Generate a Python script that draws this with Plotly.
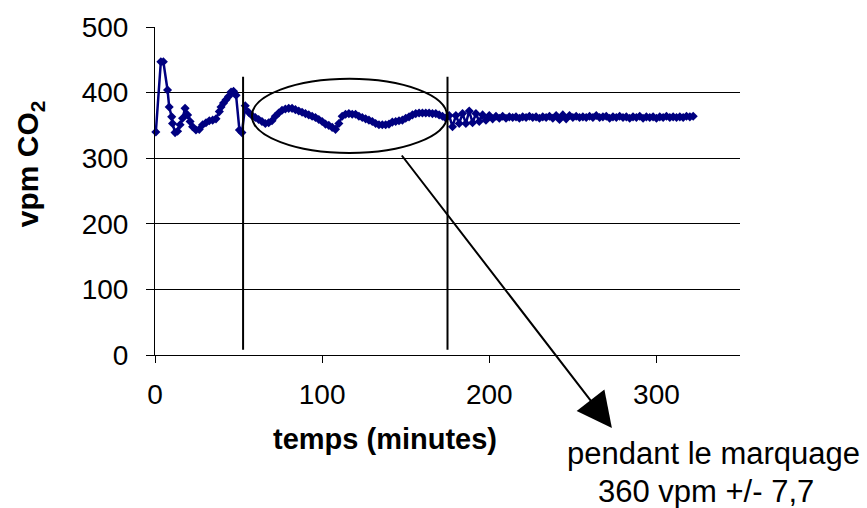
import plotly.graph_objects as go

# CO2 concentration (vpm) against time (minutes)
temps_debut = [0.5, 3.5, 5, 7.5, 8.5, 10, 10.5, 12, 13.5, 15, 16.5, 18, 19.5, 21, 22.5,
               24.5, 26.5, 28.5, 30.5, 32.5, 34.5, 36.5, 38.5, 39.5, 41, 42.5, 44, 45.5,
               47, 48.5, 50.5, 52]
co2_debut = [340, 447, 447, 404, 378, 363, 353, 339, 341, 351, 361, 376, 366, 356, 348,
             343, 344, 351, 354, 357, 358, 360, 371, 378, 384, 389, 394, 401,
             402, 396, 343, 339]

temps_marquage = [54, 56, 58, 60, 62, 64, 66, 68, 70, 72, 74, 76, 78, 80, 82, 84, 86, 88,
                  90, 92, 94, 96, 98, 100, 102, 104, 106, 108, 110, 112, 114, 116, 118,
                  120, 122, 124, 126, 128, 130, 132, 134, 136, 138, 140, 142, 144, 146,
                  148, 150, 152, 154, 156, 158, 160, 162, 164, 166, 168, 170, 172, 174]
co2_marquage = [380, 370, 365, 362, 359, 356, 353, 354, 357, 364, 369, 373, 375, 376, 376,
                374, 372, 370, 368, 366, 364, 362, 359, 356, 352, 350, 347, 344, 353, 364,
                367, 368, 367, 367, 364, 362, 360, 358, 356, 353, 351, 351, 351, 352, 355,
                356, 357, 358, 361, 363, 366, 368, 369, 369, 369, 369, 368, 368, 366, 364,
                361]

temps_fin = [176, 178, 180, 182, 184, 186, 188, 190, 192, 194, 196, 198, 200, 202, 204,
             206, 208, 210, 212, 214, 216, 218, 220, 222, 224, 226, 228, 230, 232, 234,
             236, 238, 240, 242, 244, 246, 248, 250, 252, 254, 256, 258, 260, 262, 264,
             266, 268, 270, 272, 274, 276, 278, 280, 282, 284, 286, 288, 290, 292, 294,
             296, 298, 300, 302, 304, 306, 308, 310, 312, 314, 316, 318, 320, 322]
co2_fin = [365, 348, 365, 353, 368, 353, 372, 354, 368, 356, 366, 358, 365, 360, 364,
           361, 364, 361, 363, 362, 363, 361, 363, 362, 364, 362, 363, 361, 363, 362,
           364, 361, 365, 359, 366, 360, 365, 362, 364, 362, 363, 362, 364, 362, 365,
           362, 363, 364, 361, 363, 362, 364, 362, 363, 361, 363, 362, 364, 361, 363,
           362, 363, 361, 363, 362, 364, 362, 363, 362, 363, 362, 364, 363, 364]

temps = temps_debut + temps_marquage + temps_fin
co2 = co2_debut + co2_marquage + co2_fin

x_ticks = [0, 100, 200, 300]
y_ticks = [0, 100, 200, 300, 400, 500]

# labelling period: bounds (minutes) and the ellipse around it
debut_marquage = 52.7
fin_marquage = 175
bas_trait, haut_trait = 8, 424
ellipse_t = (58, 174.7)
ellipse_v = (308, 421)

FONT = "Liberation Sans, Arial, sans-serif"
NAVY = "#000080"

fig = go.Figure()
fig.add_trace(go.Scatter(
    x=temps, y=co2, mode="lines+markers",
    line=dict(color=NAVY, width=2.5),
    marker=dict(symbol="diamond", size=7, color=NAVY),
    showlegend=False, cliponaxis=False,
))

shapes = []
for t in (debut_marquage, fin_marquage):
    shapes.append(dict(type="line", xref="x", yref="y", x0=t, x1=t,
                       y0=bas_trait, y1=haut_trait,
                       line=dict(color="black", width=2)))
shapes.append(dict(type="circle", xref="x", yref="y",
                   x0=ellipse_t[0], x1=ellipse_t[1], y0=ellipse_v[0], y1=ellipse_v[1],
                   line=dict(color="black", width=2)))

annotations = [
    dict(text="vpm CO<sub>2</sub>", xref="paper", yref="paper", x=-0.214, y=0.584,
         textangle=-90, showarrow=False, xanchor="center", yanchor="middle",
         font=dict(family=FONT, size=30, color="black", weight="bold")),
    dict(text="<b>temps (minutes)</b>", xref="paper", yref="paper", x=0.393, y=-0.256,
         showarrow=False, xanchor="center", yanchor="middle",
         font=dict(family=FONT, size=29, color="black")),
    dict(text=" ", xref="paper", yref="paper", x=0.781, y=-0.2226,
         ax=-212, ay=-275, showarrow=True, arrowhead=2, arrowsize=3.5,
         arrowwidth=2, arrowcolor="black", font=dict(size=2)),
    dict(text="pendant le marquage", xref="paper", yref="paper", x=0.954, y=-0.299,
         showarrow=False, xanchor="center", yanchor="middle",
         font=dict(family=FONT, size=31, color="black")),
    dict(text="360 vpm +/- 7,7", xref="paper", yref="paper", x=0.942, y=-0.415,
         showarrow=False, xanchor="center", yanchor="middle",
         font=dict(family=FONT, size=31, color="black")),
]

fig.update_layout(
    width=867, height=508,
    margin=dict(l=155, r=127, t=27, b=153),
    paper_bgcolor="white", plot_bgcolor="white",
    font=dict(family=FONT, size=28, color="black"),
    shapes=shapes, annotations=annotations,
    xaxis=dict(range=[0, 350], tickvals=x_ticks, ticks="outside", ticklen=7,
               tickcolor="black", showline=True, linecolor="black", linewidth=1,
               showgrid=False, zeroline=False, ticklabelstandoff=7,
               tickfont=dict(size=28)),
    yaxis=dict(range=[0, 500], tickvals=y_ticks, ticks="outside", ticklen=8,
               tickcolor="black", showline=True, linecolor="black", linewidth=1,
               showgrid=True, gridcolor="black", gridwidth=1, zeroline=False,
               ticklabelstandoff=12, tickfont=dict(size=28)),
)

fig.write_html("out.html")
